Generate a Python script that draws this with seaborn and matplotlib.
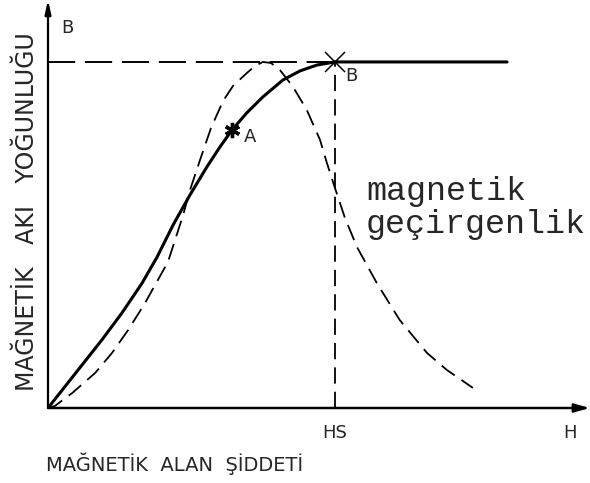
import matplotlib
matplotlib.use("Agg")
import matplotlib.pyplot as plt
import seaborn as sns
import pandas as pd

# B-H magnetisation curve (H normalised to saturation field HS = 1, B to saturation = 1)
bh_H = [0.0, 0.105, 0.188, 0.258, 0.328, 0.380, 0.436, 0.495, 0.554, 0.599,
        0.641, 0.693, 0.749, 0.819, 0.878, 0.937, 1.0, 1.6]
bh_B = [0.0, 0.110, 0.197, 0.275, 0.361, 0.436, 0.529, 0.616, 0.697, 0.754,
        0.803, 0.853, 0.899, 0.948, 0.974, 0.991, 1.0, 1.0]

# Magnetic permeability curve (relative scale)
mu_H = [0.0, 0.024, 0.084, 0.164, 0.223, 0.279, 0.338, 0.383, 0.418,
        0.470, 0.495, 0.530, 0.568, 0.610, 0.645, 0.693, 0.721, 0.749, 0.777,
        0.808, 0.854, 0.902, 0.948, 0.972, 1.0, 1.035, 1.077, 1.146, 1.226,
        1.321, 1.390, 1.481]
mu_B = [0.0, 0.006, 0.043, 0.101, 0.159, 0.225, 0.303, 0.370, 0.422,
        0.555, 0.630, 0.717, 0.809, 0.887, 0.931, 0.968, 0.988, 1.0, 0.997,
        0.977, 0.928, 0.861, 0.775, 0.708, 0.636, 0.549, 0.465, 0.361, 0.254,
        0.159, 0.110, 0.058]

HS = 1.0
B_sat = 1.0
point_A = (0.641, 0.803)
point_B = (HS, B_sat)

x_max = 1.889
y_max = 1.179

sns.set_style("white")
plt.rcParams["font.family"] = ["DejaVu Sans"]

fig = plt.figure(figsize=(5.9, 4.83), dpi=100)
ax = fig.add_axes([48 / 590, 75 / 483, 542 / 590, 408 / 483])
ax.set_xlim(0, x_max)
ax.set_ylim(0, y_max)
for s in ax.spines.values():
    s.set_visible(False)
ax.set_xticks([])
ax.set_yticks([])

bh = pd.DataFrame({"H": bh_H, "B": bh_B})
mu = pd.DataFrame({"H": mu_H, "mu": mu_B})

sns.lineplot(data=bh, x="H", y="B", sort=False, estimator=None, ax=ax,
             color="black", lw=2.2, solid_capstyle="round",
             solid_joinstyle="round")
sns.lineplot(data=mu, x="H", y="mu", sort=False, estimator=None, ax=ax,
             color="black", lw=1.3, dashes=False, linestyle=(0, (9, 4.5)))

# saturation guides
ax.plot([0, HS], [B_sat, B_sat], color="black", lw=1.4, linestyle=(0, (14, 5)))
ax.plot([HS, HS], [0, B_sat], color="black", lw=1.3, linestyle=(0, (9, 4.5)))

# axes with arrow heads
ax.annotate("", xy=(x_max, 0), xytext=(0, 0), annotation_clip=False,
            arrowprops=dict(arrowstyle="-|>,head_length=0.9,head_width=0.25",
                            lw=1.8, color="black", shrinkA=0, shrinkB=0))
ax.annotate("", xy=(0, y_max), xytext=(0, 0), annotation_clip=False,
            arrowprops=dict(arrowstyle="-|>,head_length=0.8,head_width=0.18",
                            lw=1.6, color="black", shrinkA=0, shrinkB=0))

# marked points
ax.plot(*point_A, marker=(6, 2, 0), ms=11, mew=2.4, color="black")
ax.plot(*point_B, marker="x", ms=14, mew=1.1, color="black", clip_on=False)

ax.text(0.704, 0.783, "A", fontsize=13, va="center", ha="center")
ax.text(1.056, 0.960, "B", fontsize=13, va="center", ha="center")
ax.text(0.045, 1.098, "B", fontsize=13, va="center", ha="left")
ax.text(HS, -0.072, "HS", fontsize=13, va="center", ha="center", clip_on=False)
ax.text(1.82, -0.072, "H", fontsize=13, va="center", ha="center", clip_on=False)

mono = ["Liberation Mono", "DejaVu Sans Mono"]
ax.text(1.108, 0.625, "magnetik", family=mono, fontsize=24, va="center", ha="left")
ax.text(1.108, 0.53, "geçirgenlik", family=mono, fontsize=24, va="center", ha="left")

fig.text(175 / 590, 1 - 464 / 483, "MAĞNETİK  ALAN  ŞİDDETİ", fontsize=14,
         ha="center", va="center")
fig.text(27 / 590, 1 - 212 / 483, "MAĞNETİK   AKI   YOĞUNLUĞU", fontsize=17,
         rotation=90, ha="center", va="center")

fig.savefig("out.png", dpi=100)
